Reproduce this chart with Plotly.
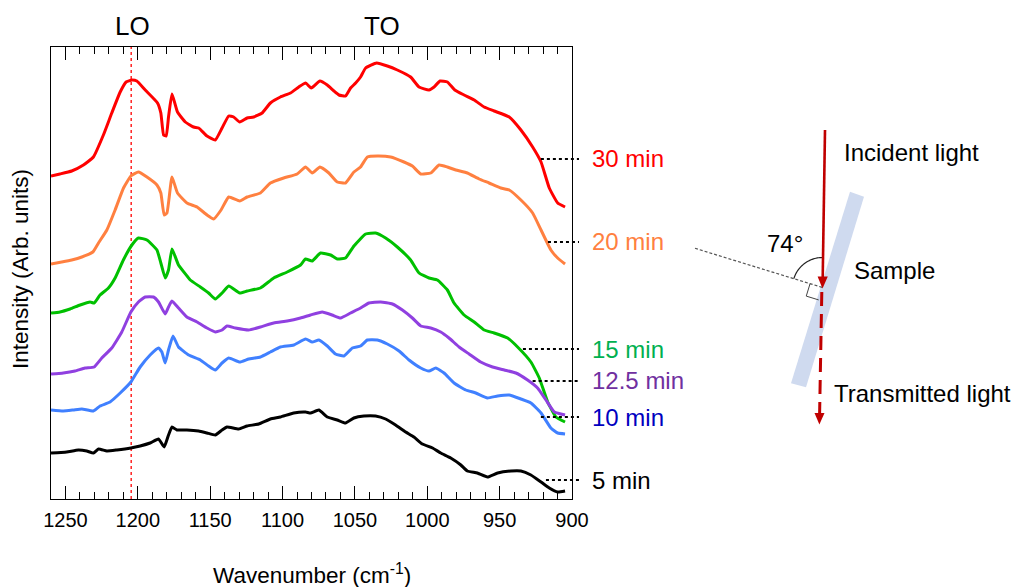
import numpy as np
import plotly.graph_objects as go

# ---------------- data ----------------
wn_30 = [1260, 1253.8, 1245.7, 1237.6, 1230.7, 1223.8, 1218, 1212.2, 1208.1, 1204.1, 1200.7, 1194.9,
         1186.4, 1184.1, 1182.2, 1180.4, 1178.8, 1176.4, 1172.6, 1167.2, 1161.5, 1158, 1152.2, 1146.5,
         1141.8, 1137.2, 1133.8, 1129.6, 1124.5, 1120, 1114.1, 1108.4, 1101.5, 1094.5, 1088.8, 1084.1,
         1080.2, 1074.2, 1069.1, 1064.5, 1061, 1056.5, 1053, 1049.5, 1046.1, 1042.6, 1035, 1027.6,
         1020.7, 1011.5, 1005.7, 998.8, 995.3, 991.2, 986.1, 981, 974.6, 967.6, 960.7, 953.8, 943.4,
         935.3, 927.2, 921.4, 915.7, 909.9, 904.8]
int_30 = [3.23, 3.25, 3.28, 3.34, 3.42, 3.64, 3.86, 4.07, 4.17, 4.19, 4.18, 4.09,
          3.96, 3.86, 3.64, 3.63, 3.82, 4.05, 3.87, 3.77, 3.72, 3.71, 3.63, 3.59,
          3.71, 3.83, 3.82, 3.77, 3.81, 3.82, 3.86, 3.96, 4.02, 4.06, 4.12, 4.16,
          4.11, 4.18, 4.14, 4.08, 4.04, 4.03, 4.11, 4.16, 4.22, 4.31, 4.36, 4.33,
          4.29, 4.22, 4.12, 4.09, 4.12, 4.18, 4.17, 4.09, 4.04, 3.99, 3.92, 3.88, 3.82,
          3.69, 3.52, 3.37, 3.11, 2.96, 2.92]

wn_20 = [1260, 1252.6, 1245.7, 1238.7, 1231.1, 1227.2, 1221.4, 1215.7, 1209.9, 1204.8, 1199.6, 1193.7,
         1186.8, 1184.1, 1181.8, 1179.9, 1176.4, 1172.6, 1166.1, 1159.1, 1152.2, 1147.6, 1142.5, 1137.2,
         1129.6, 1124.5, 1115.3, 1108.4, 1099.2, 1089.9, 1084.1, 1079.5, 1074.2, 1068, 1062.2, 1056.5,
         1050.7, 1046.1, 1041.4, 1034.5, 1025.3, 1016.1, 1010.3, 1004.5, 997.6, 991.9, 986.1, 980.3,
         972.3, 964.2, 957.3, 949.2, 943.4, 935.3, 927.2, 921.4, 914.6, 909.9, 904.8]
int_20 = [2.35, 2.37, 2.39, 2.42, 2.47, 2.56, 2.69, 2.89, 3.11, 3.23, 3.27, 3.22,
          3.14, 3.06, 2.84, 2.86, 3.22, 3.06, 2.96, 2.92, 2.84, 2.80, 2.89, 3.02,
          2.98, 3.02, 3.06, 3.16, 3.21, 3.25, 3.32, 3.26, 3.32, 3.26, 3.17, 3.16,
          3.27, 3.32, 3.42, 3.43, 3.42, 3.37, 3.33, 3.25, 3.26, 3.34, 3.32, 3.29,
          3.26, 3.20, 3.16, 3.11, 3.09, 2.99, 2.86, 2.69, 2.49, 2.41, 2.35]

wn_15 = [1260, 1253.8, 1246.8, 1239.9, 1233, 1230.2, 1226.1, 1220.3, 1215.7, 1210, 1204.1, 1199.6,
         1193.7, 1186.8, 1184.1, 1181.1, 1178.8, 1176.4, 1171.9, 1166, 1163.8, 1156.8, 1151.1, 1146.5,
         1141.8, 1137.2, 1129.6, 1124.5, 1115.3, 1106.1, 1096.8, 1087.6, 1084.1, 1079.5, 1073.8, 1066.8,
         1062.2, 1056.5, 1050.7, 1042.6, 1035.7, 1028.8, 1020.7, 1011.5, 1005.7, 998.8, 993, 986.1,
         981.5, 974.6, 967.6, 960.7, 953.8, 944.5, 937.6, 928.4, 922.6, 916.8, 911.1, 904.8]
int_15 = [1.86, 1.87, 1.90, 1.94, 1.97, 1.96, 2.04, 2.11, 2.21, 2.39, 2.54, 2.61,
          2.59, 2.49, 2.36, 2.21, 2.29, 2.50, 2.34, 2.23, 2.19, 2.12, 2.06, 2.00,
          2.06, 2.13, 2.06, 2.08, 2.11, 2.21, 2.27, 2.34, 2.40, 2.38, 2.46, 2.44,
          2.40, 2.41, 2.53, 2.65, 2.66, 2.61, 2.52, 2.39, 2.26, 2.21, 2.19, 2.09,
          1.96, 1.84, 1.77, 1.69, 1.66, 1.61, 1.52, 1.37, 1.21, 0.97, 0.82, 0.77]

wn_125 = [1260, 1251.5, 1243.4, 1236.5, 1230.2, 1224.9, 1218, 1211.1, 1204.8, 1199.6, 1194.9, 1189.2,
          1185.7, 1181.1, 1178.8, 1176.4, 1171.9, 1166.1, 1159.1, 1152.2, 1146.5, 1141.8, 1138.4, 1132.6,
          1123.4, 1115.3, 1106.1, 1096.8, 1087.6, 1080.7, 1072.6, 1065.7, 1059.9, 1053, 1046.1, 1040.3,
          1032.2, 1024.1, 1017.2, 1010.3, 1004.5, 997.6, 990.7, 985, 978, 971.1, 963.1, 954.9,
          946.8, 938.8, 930.7, 923.8, 918, 912.2, 904.8]
int_125 = [1.25, 1.26, 1.28, 1.31, 1.32, 1.41, 1.51, 1.67, 1.87, 1.97, 2.02, 2.02,
           1.97, 1.85, 1.92, 1.98, 1.91, 1.82, 1.77, 1.71, 1.67, 1.69, 1.73, 1.71,
           1.69, 1.72, 1.76, 1.78, 1.81, 1.84, 1.87, 1.84, 1.81, 1.86, 1.91, 1.96,
           1.97, 1.95, 1.89, 1.81, 1.73, 1.71, 1.67, 1.61, 1.52, 1.45, 1.37, 1.32,
           1.29, 1.26, 1.19, 1.11, 0.99, 0.87, 0.84]

wn_10 = [1260, 1251.5, 1244.6, 1238.7, 1230.7, 1226.1, 1219.2, 1212.2, 1204.8, 1198.4, 1191.5, 1185.7,
         1183.4, 1181.1, 1178.8, 1175.7, 1171.9, 1164.9, 1156.8, 1151.1, 1146.5, 1141.8, 1137.2, 1129.6,
         1123.4, 1115.3, 1108.4, 1101.5, 1092.3, 1084.1, 1079.5, 1074.9, 1069.1, 1063.4, 1057.6, 1051.8,
         1046.1, 1041.4, 1034.5, 1027.6, 1019.5, 1012.6, 1004.5, 998.8, 994.1, 988.4, 981.5, 973.4,
         966.5, 958.4, 951.4, 943.4, 935.3, 928.4, 921.4, 914.6, 909.9, 904.8]
int_10 = [0.89, 0.88, 0.89, 0.90, 0.88, 0.93, 0.97, 1.06, 1.17, 1.32, 1.44, 1.51,
          1.47, 1.36, 1.49, 1.63, 1.52, 1.44, 1.39, 1.33, 1.29, 1.36, 1.41, 1.37,
          1.40, 1.42, 1.47, 1.52, 1.54, 1.60, 1.57, 1.59, 1.53, 1.45, 1.43, 1.51,
          1.53, 1.59, 1.59, 1.55, 1.48, 1.39, 1.31, 1.28, 1.31, 1.26, 1.16, 1.09,
          1.06, 1.01, 1.03, 1.04, 1.00, 0.96, 0.86, 0.71, 0.66, 0.65]

wn_5 = [1260, 1249.2, 1241.1, 1235.3, 1230.7, 1227.2, 1221.4, 1214.5, 1204.8, 1198.4, 1191.5, 1185.7,
        1181.8, 1178.8, 1176.4, 1173, 1166.1, 1158, 1152.2, 1146.5, 1141.8, 1138.4, 1130.3, 1124.5,
        1116.5, 1108.4, 1101.5, 1092.3, 1084.1, 1080.7, 1074.9, 1069.1, 1062.2, 1056.5, 1050.7, 1043.8,
        1035.7, 1028.8, 1021.9, 1014.9, 1009.2, 1003.4, 996.4, 990.7, 983.8, 976.8, 972.3, 965.4,
        958.4, 951.4, 942.2, 935.3, 928.4, 921.4, 915.7, 909.9, 904.8]
int_5 = [0.46, 0.47, 0.49, 0.48, 0.46, 0.50, 0.48, 0.49, 0.51, 0.53, 0.56, 0.60,
         0.52, 0.64, 0.72, 0.69, 0.69, 0.68, 0.66, 0.64, 0.69, 0.72, 0.70, 0.73,
         0.75, 0.80, 0.82, 0.86, 0.87, 0.86, 0.89, 0.82, 0.79, 0.76, 0.81, 0.83,
         0.83, 0.80, 0.74, 0.67, 0.62, 0.55, 0.51, 0.46, 0.41, 0.34, 0.28, 0.26,
         0.22, 0.26, 0.28, 0.28, 0.24, 0.17, 0.11, 0.07, 0.08]

series_labels = ["30 min", "20 min", "15 min", "12.5 min", "10 min", "5 min"]
label_levels = [3.40, 2.57, 1.50, 1.18, 0.82, 0.19]          # height of each dotted leader
leader_start = [921.5, 916.6, 933.9, 927.2, 921.5, 918.0]    # wavenumber where each leader starts

LO_POSITION = 1204.6
X_RANGE = [1260, 900]
Y_RANGE = [0, 4.52]
x_ticks = [1250, 1200, 1150, 1100, 1050, 1000, 950, 900]

curve_colors = ["#FF0000", "#FF8040", "#00C000", "#9040E0", "#4080FF", "#000000"]
label_colors = ["#FF0000", "#FF8040", "#00B050", "#7030A0", "#0000C0", "#000000"]

# ---------------- layout geometry (pixels) ----------------
W_FIG, H_FIG = 1014, 587
L, R, T, B = 51, 572, 47, 499
PW, PH = R - L, B - T
FONT = "Liberation Sans, Arial, Helvetica, sans-serif"
BEAM = "#C00000"


def pxx(x):
    return (x - L) / PW


def pyy(y):
    return (B - y) / PH


def wn2paper(w):
    return (X_RANGE[0] - w) / (X_RANGE[0] - X_RANGE[1])


def val2paper(v):
    return (v - Y_RANGE[0]) / (Y_RANGE[1] - Y_RANGE[0])


def poly_path(pts, close=False):
    s = "M " + " L ".join(f"{pxx(x):.5f},{pyy(y):.5f}" for x, y in pts)
    return s + (" Z" if close else "")


fig = go.Figure()

spectra = [(wn_30, int_30), (wn_20, int_20), (wn_15, int_15),
           (wn_125, int_125), (wn_10, int_10), (wn_5, int_5)]
for (wx, iy), col, name in zip(spectra, curve_colors, series_labels):
    fig.add_trace(go.Scatter(x=wx, y=iy, mode="lines", name=name,
                             line=dict(color=col, width=3, shape="spline", smoothing=0.4),
                             showlegend=False, hoverinfo="skip"))

shapes = []
annotations = []

# LO reference line
shapes.append(dict(type="line", xref="x", yref="paper", x0=LO_POSITION, x1=LO_POSITION, y0=0, y1=1,
                   line=dict(color="#FF0000", width=1.3, dash="dot"), layer="below"))

# leaders + labels
for lab, lev, x0, lc in zip(series_labels, label_levels, leader_start, label_colors):
    yp = val2paper(lev)
    shapes.append(dict(type="line", xref="paper", yref="paper", x0=wn2paper(x0), x1=pxx(579),
                       y0=yp, y1=yp, line=dict(color="black", width=2, dash="dot")))
    annotations.append(dict(xref="paper", yref="paper", x=pxx(590), y=yp, text=lab, showarrow=False,
                            xanchor="left", yanchor="middle",
                            font=dict(family=FONT, size=24, color=lc)))

# LO / TO labels
annotations.append(dict(xref="paper", yref="paper", x=pxx(132), y=pyy(26), text="LO", showarrow=False,
                        xanchor="center", yanchor="middle", font=dict(family=FONT, size=26, color="black")))
annotations.append(dict(xref="paper", yref="paper", x=pxx(382), y=pyy(26), text="TO", showarrow=False,
                        xanchor="center", yanchor="middle", font=dict(family=FONT, size=26, color="black")))

# axis titles
annotations.append(dict(xref="paper", yref="paper", x=pxx(312), y=pyy(574),
                        text="Wavenumber (cm<sup>-1</sup>)", showarrow=False,
                        xanchor="center", yanchor="middle", font=dict(family=FONT, size=22.5, color="black")))
annotations.append(dict(xref="paper", yref="paper", x=pxx(20), y=pyy(269),
                        text="Intensity (Arb. units)", showarrow=False, textangle=-90,
                        xanchor="center", yanchor="middle", font=dict(family=FONT, size=22.5, color="black")))

# ---------------- geometry sketch on the right ----------------
slab = [(850, 191.7), (864, 196.7), (806, 387.3), (791, 383.3)]
shapes.append(dict(type="path", xref="paper", yref="paper", path=poly_path(slab, close=True),
                   fillcolor="#CFDAEF", line=dict(width=0)))

cx, cy = 822.5, 287.5
nx, ny = 695, 248.3
shapes.append(dict(type="line", xref="paper", yref="paper", x0=pxx(nx), y0=pyy(ny), x1=pxx(cx), y1=pyy(cy),
                   line=dict(color="#555555", width=1.2, dash="3px,2px")))
a0 = np.arctan2(ny - cy, nx - cx)
angs = np.linspace(a0, -np.pi / 2, 30)
rr = 30
arc_pts = [(cx + rr * np.cos(a), cy + rr * np.sin(a)) for a in angs]
shapes.append(dict(type="path", xref="paper", yref="paper", path=poly_path(arc_pts),
                   line=dict(color="#222222", width=1.2)))

u = np.array([nx - cx, ny - cy]); u = u / np.linalg.norm(u)
v = np.array([-u[1], u[0]])
if v[1] < 0:
    v = -v
d = 13
pA = np.array([cx, cy]) + d * u
pC = pA + d * v
pB = np.array([cx, cy]) + d * v
shapes.append(dict(type="path", xref="paper", yref="paper", path=poly_path([pA, pC, pB]),
                   line=dict(color="#444444", width=1)))

# incident beam: line + head
shapes.append(dict(type="line", xref="paper", yref="paper", x0=pxx(825), y0=pyy(130), x1=pxx(822.7), y1=pyy(278),
                   line=dict(color=BEAM, width=2.6)))
shapes.append(dict(type="path", xref="paper", yref="paper",
                   path=poly_path([(817.6, 276.5), (827.8, 276.5), (822.5, 288.5)], close=True),
                   fillcolor=BEAM, line=dict(width=0)))
# transmitted beam: dashed line + head
shapes.append(dict(type="line", xref="paper", yref="paper", x0=pxx(821.8), y0=pyy(292), x1=pxx(819.6), y1=pyy(414),
                   line=dict(color=BEAM, width=3, dash="14px,8px")))
shapes.append(dict(type="path", xref="paper", yref="paper",
                   path=poly_path([(814.5, 413), (824.5, 413), (819.4, 424.5)], close=True),
                   fillcolor=BEAM, line=dict(width=0)))

for txt, x, y, anchor in [("Incident light", 842, 152, "left"), ("Sample", 852, 270, "left"),
                          ("Transmitted light", 832, 393, "left"), ("74°", 785, 244, "center")]:
    annotations.append(dict(xref="paper", yref="paper", x=pxx(x), y=pyy(y), text=txt, showarrow=False,
                            xanchor=anchor, yanchor="middle", font=dict(family=FONT, size=24, color="black")))

fig.update_layout(
    width=W_FIG, height=H_FIG,
    margin=dict(l=L, r=W_FIG - R, t=T, b=H_FIG - B, autoexpand=False),
    paper_bgcolor="white", plot_bgcolor="white",
    font=dict(family=FONT, color="black"),
    shapes=shapes, annotations=annotations,
    xaxis=dict(range=X_RANGE, tickmode="array", tickvals=x_ticks, ticktext=[str(t) for t in x_ticks],
               ticks="inside", ticklen=13, tickwidth=1.3, tickcolor="black", ticklabelstandoff=3,
               showline=True, linecolor="black", linewidth=1.3, mirror="allticks",
               showgrid=False, zeroline=False, tickfont=dict(family=FONT, size=20, color="black"),
               minor=dict(ticks="inside", ticklen=7, tickwidth=1.3, tickcolor="black", dtick=10, tick0=900,
                          showgrid=False)),
    yaxis=dict(range=Y_RANGE, showline=True, linecolor="black", linewidth=1.3, mirror=True,
               ticks="", showticklabels=False, showgrid=False, zeroline=False),
)

fig.write_html("out.html")
